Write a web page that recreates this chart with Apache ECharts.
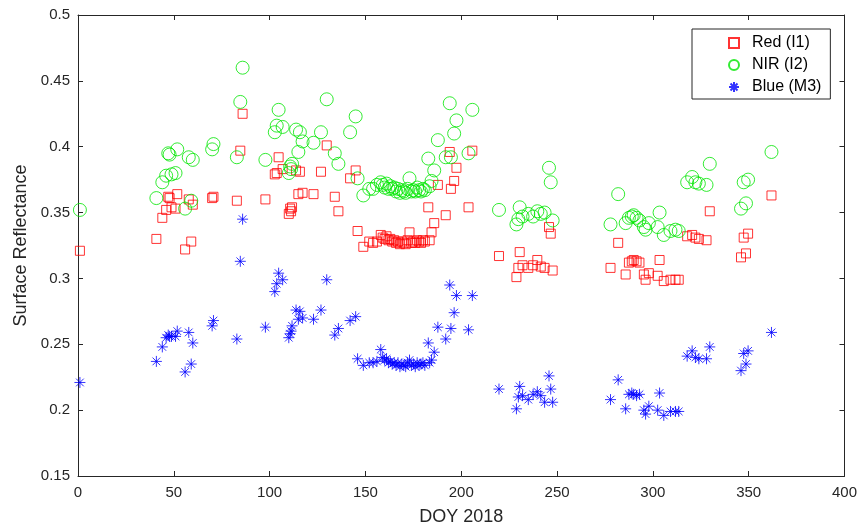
<!DOCTYPE html>
<html>
<head>
<meta charset="utf-8">
<script src="https://cdn.jsdelivr.net/npm/echarts@6/dist/echarts.min.js"></script>
<style>html,body{margin:0;padding:0;background:#fff}#c{width:860px;height:531px}</style>
</head>
<body>
<div id="c"></div>
<script>
// Day of year 2018
const doy = [1, 40.9, 44.0, 46.0, 47.1, 47.8, 48.8, 50.9, 51.8, 55.9, 57.8, 59.1, 59.9, 70.0, 70.7, 82.9, 84.7, 85.9, 97.8,
  102.7, 103.7, 104.7, 106.8, 110.0, 110.7, 111.2, 111.7, 113.8, 115.0, 115.8, 117.2, 122.9, 126.8, 129.8, 134.0, 135.9, 142.0, 144.9, 145.9, 148.9,
  152, 154, 156, 158, 159, 160, 161, 162, 163, 164, 165, 166, 167, 168, 169, 170, 171, 172, 173, 174, 175, 176, 177, 178, 179, 180, 181, 182.8, 183.5, 184.5, 185.9, 187.8, 191.9,
  194.0, 194.6, 196.3, 197.5, 203.8, 205.8,
  219.7, 228.8, 229.8, 230.5, 232.0, 235.0, 237.5, 239.7, 241.5, 243.5, 245.8, 246.7, 247.7,
  277.9, 281.9, 285.8, 287.5, 289.0, 290.0, 291.5, 293.0, 295.3, 296.2, 297.9, 302.5, 303.5, 305.7, 309.2, 311.8, 313.5,
  317.9, 320.5, 322.2, 324.0, 328.0, 329.7, 346.0, 347.4, 348.6, 349.7, 361.9];
// Red (I1)
const red = [0.321, 0.330, 0.346, 0.352, 0.362, 0.361, 0.354, 0.353, 0.364, 0.322, 0.360, 0.328, 0.356, 0.361, 0.362, 0.359, 0.397, 0.425, 0.360,
  0.379, 0.380, 0.392, 0.383, 0.349, 0.353, 0.351, 0.354, 0.382, 0.364, 0.381, 0.365, 0.364, 0.381, 0.401, 0.362, 0.351, 0.376, 0.382, 0.336, 0.324,
  0.328, 0.327, 0.328, 0.333, 0.331, 0.330, 0.332, 0.329, 0.330, 0.328, 0.329, 0.327, 0.328, 0.326, 0.328, 0.327, 0.326, 0.329, 0.335, 0.327, 0.328, 0.327, 0.329, 0.328, 0.327, 0.329, 0.328, 0.354, 0.329, 0.335, 0.342, 0.371, 0.348,
  0.396, 0.368, 0.374, 0.384, 0.354, 0.397,
  0.317, 0.301, 0.308, 0.320, 0.310, 0.308, 0.310, 0.314, 0.309, 0.308, 0.339, 0.334, 0.306,
  0.308, 0.327, 0.303, 0.312, 0.313, 0.314, 0.313, 0.312, 0.303, 0.299, 0.304, 0.302, 0.314, 0.298, 0.299, 0.299, 0.299,
  0.332, 0.333, 0.331, 0.330, 0.329, 0.351, 0.316, 0.331, 0.319, 0.334, 0.363];
// NIR (I2)
const nir = [0.352, 0.361, 0.373, 0.378, 0.395, 0.394, 0.379, 0.380, 0.398, 0.353, 0.392, 0.359, 0.390, 0.398, 0.402, 0.392, 0.434, 0.460, 0.390,
  0.411, 0.416, 0.428, 0.415, 0.380, 0.385, 0.383, 0.387, 0.413, 0.396, 0.411, 0.404, 0.403, 0.411, 0.436, 0.395, 0.387, 0.411, 0.423, 0.376, 0.363,
  0.368, 0.368, 0.371, 0.373, 0.371, 0.369, 0.372, 0.368, 0.370, 0.368, 0.369, 0.366, 0.368, 0.365, 0.367, 0.366, 0.365, 0.368, 0.376, 0.366, 0.367, 0.366, 0.369, 0.367, 0.366, 0.368, 0.367, 0.391, 0.370, 0.374, 0.382, 0.405, 0.392,
  0.433, 0.392, 0.410, 0.420, 0.395, 0.428,
  0.352, 0.341, 0.345, 0.354, 0.347, 0.349, 0.347, 0.351, 0.349, 0.350, 0.384, 0.373, 0.344,
  0.341, 0.364, 0.342, 0.346, 0.347, 0.348, 0.346, 0.344, 0.339, 0.337, 0.342, 0.339, 0.350, 0.333, 0.336, 0.337, 0.336,
  0.373, 0.377, 0.373, 0.372, 0.371, 0.387, 0.353, 0.373, 0.357, 0.375, 0.396];
// Blue (M3)
const blue = [0.221, 0.237, 0.248, 0.255, 0.257, 0.256, 0.256, 0.256, 0.260, 0.229, 0.259, 0.235, 0.251, 0.264, 0.268, 0.254, 0.313, 0.345, 0.263,
  0.290, 0.296, 0.304, 0.299, 0.255, 0.258, 0.260, 0.264, 0.276, 0.269, 0.275, 0.270, 0.269, 0.276, 0.299, 0.257, 0.262, 0.268, 0.271, 0.239, 0.234,
  0.236, 0.236, 0.237, 0.246, 0.240, 0.238, 0.239, 0.236, 0.237, 0.235, 0.236, 0.234, 0.236, 0.233, 0.235, 0.234, 0.233, 0.236, 0.238, 0.234, 0.235, 0.233, 0.236, 0.234, 0.235, 0.236, 0.234, 0.251, 0.236, 0.238, 0.244, 0.263, 0.254,
  0.295, 0.262, 0.274, 0.287, 0.261, 0.287,
  0.216, 0.201, 0.210, 0.218, 0.211, 0.208, 0.212, 0.214, 0.211, 0.206, 0.226, 0.216, 0.206,
  0.208, 0.223, 0.201, 0.212, 0.213, 0.212, 0.211, 0.212, 0.200, 0.197, 0.203, 0.200, 0.213, 0.196, 0.199, 0.199, 0.199,
  0.241, 0.245, 0.240, 0.239, 0.239, 0.248, 0.230, 0.243, 0.235, 0.245, 0.259];
const seriesNames = ['Red (I1)', 'NIR (I2)', 'Blue (M3)'];
const xTicks = { min: 0, max: 400, interval: 50 };
const yTicks = { min: 0.15, max: 0.5, interval: 0.05 };

const pts = arr => doy.map((d, i) => [d, arr[i]]);
const axisColor = '#262626';
const font = 'Liberation Sans, Arial, sans-serif';
const star = 'path://M10,0 L10,20 M0,10 L20,10 M3,3 L17,17 M3,17 L17,3';

const chart = echarts.init(document.getElementById('c'), null, { renderer: 'canvas' });
const baseX = {
  type: 'value', min: xTicks.min, max: xTicks.max, interval: xTicks.interval,
  axisLine: { show: true, onZero: false, lineStyle: { color: axisColor, width: 1 } },
  axisTick: { show: true, inside: true, length: 5, lineStyle: { color: axisColor } },
  splitLine: { show: false }
};
const baseY = {
  type: 'value', min: yTicks.min, max: yTicks.max, interval: yTicks.interval,
  axisLine: { show: true, onZero: false, lineStyle: { color: axisColor, width: 1 } },
  axisTick: { show: true, inside: true, length: 5, lineStyle: { color: axisColor } },
  splitLine: { show: false }
};
chart.setOption({
  animation: false,
  backgroundColor: '#fff',
  grid: { left: 78, right: 14, top: 15, bottom: 55, containLabel: false },
  xAxis: [
    Object.assign({}, baseX, {
      position: 'bottom',
      name: 'DOY 2018', nameLocation: 'middle', nameGap: 32,
      nameTextStyle: { fontFamily: font, fontSize: 18, color: axisColor },
      axisLabel: { fontFamily: font, fontSize: 15, color: axisColor, margin: 9 }
    }),
    Object.assign({}, baseX, { position: 'top', axisLabel: { show: false } })
  ],
  yAxis: [
    Object.assign({}, baseY, {
      position: 'left',
      name: 'Surface Reflectance', nameLocation: 'middle', nameGap: 48,
      nameTextStyle: { fontFamily: font, fontSize: 18, color: axisColor },
      axisLabel: { fontFamily: font, fontSize: 15, color: axisColor, margin: 8,
        formatter: v => String(parseFloat(v.toFixed(2))) }
    }),
    Object.assign({}, baseY, { position: 'right', axisLabel: { show: false } })
  ],
  legend: {
    left: 692, top: 29, orient: 'vertical',
    backgroundColor: '#fff', borderColor: '#262626', borderWidth: 1,
    padding: [5, 9, 3, 36], itemGap: 4, itemWidth: 10, itemHeight: 10,
    textStyle: { fontFamily: font, fontSize: 16, color: '#000', lineHeight: 18, padding: [0, 0, 0, 8] },
    data: seriesNames
  },
  series: [
    { name: seriesNames[0], type: 'scatter', data: pts(red), symbol: 'rect', symbolSize: 9,
      itemStyle: { color: 'rgba(0,0,0,0)', borderColor: '#ff0000', borderWidth: 1 } },
    { name: seriesNames[1], type: 'scatter', data: pts(nir), symbol: 'circle', symbolSize: 13,
      itemStyle: { color: 'rgba(0,0,0,0)', borderColor: '#00e600', borderWidth: 1 } },
    { name: seriesNames[2], type: 'scatter', data: pts(blue), symbol: star, symbolSize: 11,
      itemStyle: { color: 'rgba(0,0,0,0)', borderColor: '#0000ff', borderWidth: 1 } }
  ]
});
</script>
</body>
</html>
